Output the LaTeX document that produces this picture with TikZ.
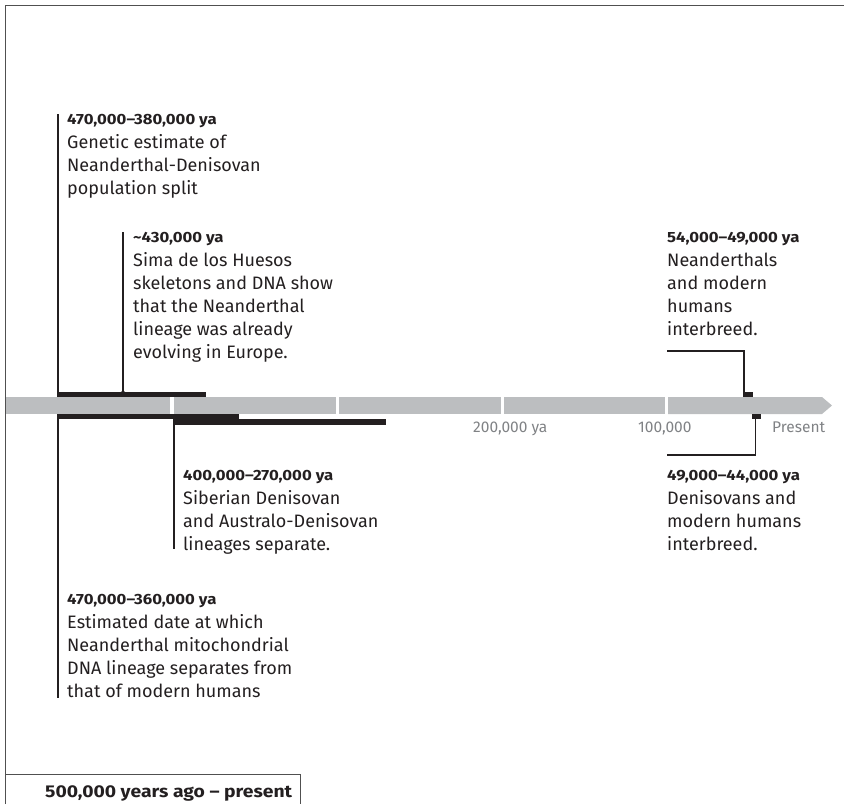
\documentclass[tikz,border=0pt]{standalone}
\usepackage{fontspec}
\setmainfont{Fira Sans}
\newfontfamily\hdrfam[FakeStretch=1.13]{Fira Sans}
\definecolor{barg}{RGB}{188,190,192}
\definecolor{ink}{RGB}{35,31,32}
\definecolor{lblg}{RGB}{128,130,133}
\definecolor{framec}{RGB}{80,80,80}
\begin{document}
\begin{tikzpicture}[x=1pt,y=-1pt,
  hdr/.style={anchor=base west,inner sep=0pt,text=ink,font=\hdrfam\fontsize{14.8}{16}\selectfont\bfseries},
  body/.style={anchor=base west,inner sep=0pt,text=ink,align=left,font=\fontsize{18}{23}\selectfont},
  axlbl/.style={anchor=base west,inner sep=0pt,text=lblg,font=\fontsize{15.5}{17}\selectfont},
  lead/.style={draw=ink,line width=1.8pt},
  thinlead/.style={draw=ink,line width=1.5pt},
  frameline/.style={draw=framec,line width=1pt},
  seg/.style={fill=barg},
  blk/.style={fill=ink}]
\useasboundingbox (0,0) rectangle (844,804);
% frame
\draw[frameline] (5,804) -- (5,5) -- (844,5);
\draw[frameline] (5,774) -- (300,774) -- (300,804);
\node[anchor=base west,inner sep=0pt,text=ink,font=\hdrfam\fontsize{17.1}{19}\selectfont\bfseries] (range) at (45,797) {500,000 years ago – present};
% grey timeline
\fill[seg] (6,397) rectangle (170,414);
\fill[seg] (173.5,397) rectangle (336,414);
\fill[seg] (339,397) rectangle (500.5,414);
\fill[seg] (504,397) rectangle (665,414);
\fill[seg] (668,397) -- (822,397) -- (832,405.5) -- (822,414) -- (668,414) -- cycle;
% axis labels
\node[axlbl] (l200) at (473,432) {200,000 ya};
\node[axlbl] (l100) at (638,432) {100,000};
\node[axlbl] (lpres) at (772,432) {Present};
% black range bars
\fill[blk] (57,392) rectangle (206,397);
\fill[blk] (57,414) rectangle (239,419);
\fill[blk] (173,419) rectangle (386,424.5);
\fill[blk] (743,392) rectangle (752.5,397);
\fill[blk] (752,414) rectangle (761,419);
% anchor coordinates on bars
\coordinate (b1) at (58,397);
\coordinate (b2) at (123,392);
\coordinate (b6) at (58,414);
\coordinate (b5) at (174,424);
\coordinate (b3) at (743.8,392);
\coordinate (b4) at (755.5,419);
% label 1
\coordinate (t1) at (58,114);
\node[hdr] (h1) at (67,124) {470,000–380,000 ya};
\node[body] (d1) at (67,194) {Genetic estimate of\\Neanderthal-Denisovan\\population split};
\draw[lead] (t1) -- (b1);
% label 2
\coordinate (t2) at (123,232);
\node[hdr] (h2) at (133,242) {\textasciitilde430,000 ya};
\node[body] (d2) at (133,358) {Sima de los Huesos\\skeletons and DNA show\\that the Neanderthal\\lineage was already\\evolving in Europe.};
\draw[thinlead] (t2) -- (b2);
\fill[ink] (b2) circle (1.8pt);
% label 3
\node[hdr] (h3) at (667,242) {54,000–49,000 ya};
\node[body] (d3) at (667,335) {Neanderthals\\and modern\\humans\\interbreed.};
\coordinate (t3) at (667,351);
\draw[thinlead] (b3) |- (t3);
% label 4
\node[hdr] (h4) at (667,480) {49,000–44,000 ya};
\node[body] (d4) at (667,550) {Denisovans and\\modern humans\\interbreed.};
\coordinate (t4) at (667,455);
\draw[thinlead] (b4) |- (t4);
% label 5
\node[hdr] (h5) at (183,480) {400,000–270,000 ya};
\node[body] (d5) at (183,550) {Siberian Denisovan\\and Australo-Denisovan\\lineages separate.};
\coordinate (t5) at (174,549);
\draw[lead] (b5) -- (t5);
% label 6
\node[hdr] (h6) at (67,604) {470,000–360,000 ya};
\node[body] (d6) at (67,697) {Estimated date at which\\Neanderthal mitochondrial\\DNA lineage separates from\\that of modern humans};
\coordinate (t6) at (58,698);
\draw[lead] (b6) -- (t6);
\end{tikzpicture}
\end{document}
